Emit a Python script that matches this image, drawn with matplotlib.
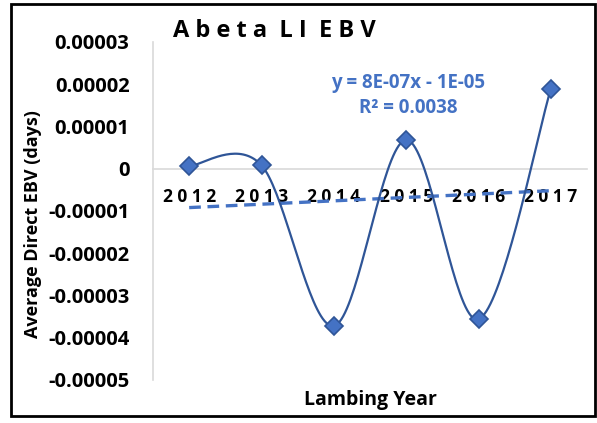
import numpy as np
import matplotlib
matplotlib.use("Agg")
import matplotlib.pyplot as plt
from matplotlib.patches import Rectangle
from matplotlib.ticker import FixedLocator

plt.rcParams['font.family'] = ['Open Sans', 'DejaVu Sans']
plt.rcParams['font.weight'] = 'bold'

# data
years = ['2012', '2013', '2014', '2015', '2016', '2017']
ebv = [0.6e-6, 0.8e-6, -37.2e-6, 6.8e-6, -35.6e-6, 18.9e-6]
trend_slope = 8e-07
trend_icept = -1e-05
trend_label = "y = 8E-07x - 1E-05\nR² = 0.0038"
yticks = [-0.00005, -0.00004, -0.00003, -0.00002, -0.00001, 0, 0.00001, 0.00002, 0.00003]
ytick_labels = ['-0.00005', '-0.00004', '-0.00003', '-0.00002', '-0.00001', '0',
                '0.00001', '0.00002', '0.00003']

line_col = '#2F5597'
mark_col = '#4472C4'


def smooth(xs, ys, n=40):
    '''Catmull-Rom style bezier, roughly what Excel does for smoothed lines'''
    px = np.r_[xs[0], xs, xs[-1]]
    py = np.r_[ys[0], ys, ys[-1]]
    outx, outy = [], []
    t = np.linspace(0, 1, n)
    for i in range(1, len(px) - 2):
        p0 = np.array([px[i], py[i]])
        p3 = np.array([px[i + 1], py[i + 1]])
        c1 = p0 + (p3 - np.array([px[i - 1], py[i - 1]])) / 6
        c2 = p3 - (np.array([px[i + 2], py[i + 2]]) - p0) / 6
        b = ((1 - t) ** 3)[:, None] * p0 + (3 * (1 - t) ** 2 * t)[:, None] * c1 \
            + (3 * (1 - t) * t ** 2)[:, None] * c2 + (t ** 3)[:, None] * p3
        outx.extend(b[:, 0])
        outy.extend(b[:, 1])
    return np.array(outx), np.array(outy)


fig = plt.figure(figsize=(5.97, 4.23), dpi=100)
ax = fig.add_axes([0.2563, 0.1017, 0.7270, 0.7991])

x = np.arange(1, len(years) + 1)
sx, sy = smooth(x, np.array(ebv))
ax.plot(sx, sy, color=line_col, lw=1.6, zorder=3)
ax.plot(x, ebv, ls='none', marker='D', ms=9, mfc=mark_col, mec=line_col, mew=1.2, zorder=4)

# linear trendline from the equation shown
tx = np.array([x[0], x[-1]])
ax.plot(tx, trend_slope * tx + trend_icept, color=mark_col, lw=2.4, ls=(0, (3.5, 2)), zorder=2)

ax.text(4.03, 1.73e-05, trend_label, color=mark_col, fontsize=13.5, fontweight='bold',
        ha='center', va='center', linespacing=1.3)

ax.set_xlim(0.5, len(years) + 0.5)
ax.set_ylim(-0.00005, 0.00003)
ax.yaxis.set_major_locator(FixedLocator(yticks))
ax.set_yticklabels(ytick_labels)
ax.set_xticks(x)
ax.set_xticklabels([' '.join(y) for y in years])

for s in ['top', 'right']:
    ax.spines[s].set_visible(False)
ax.spines['bottom'].set_position(('data', 0))
ax.spines['bottom'].set_color('#D9D9D9')
ax.spines['left'].set_color('#D9D9D9')
ax.spines['bottom'].set_linewidth(1.2)
ax.spines['left'].set_linewidth(1.2)
ax.tick_params(axis='y', length=0, pad=17, labelsize=14.5)
ax.tick_params(axis='x', length=0, pad=14, labelsize=12.5)

ax.set_xlabel('Lambing Year', fontsize=14, fontweight='bold', labelpad=0)
ax.xaxis.label.set_va('center')
ax.xaxis.set_label_coords(0.5, -0.06)
ax.set_ylabel('Average Direct EBV (days)', fontsize=13, fontweight='bold')
ax.yaxis.set_label_coords(-0.255, 0.46)

fig.text(173 / 597, 1 - 37 / 423, 'A b e t a  L I  E B V', fontsize=17, fontweight='bold',
         ha='left', va='baseline')

fig.patches.append(Rectangle((11 / 597, 1 - 416 / 423), 584 / 597, 412 / 423,
                             transform=fig.transFigure, fill=False, ec='black', lw=2))

fig.savefig('out.png', dpi=100)
